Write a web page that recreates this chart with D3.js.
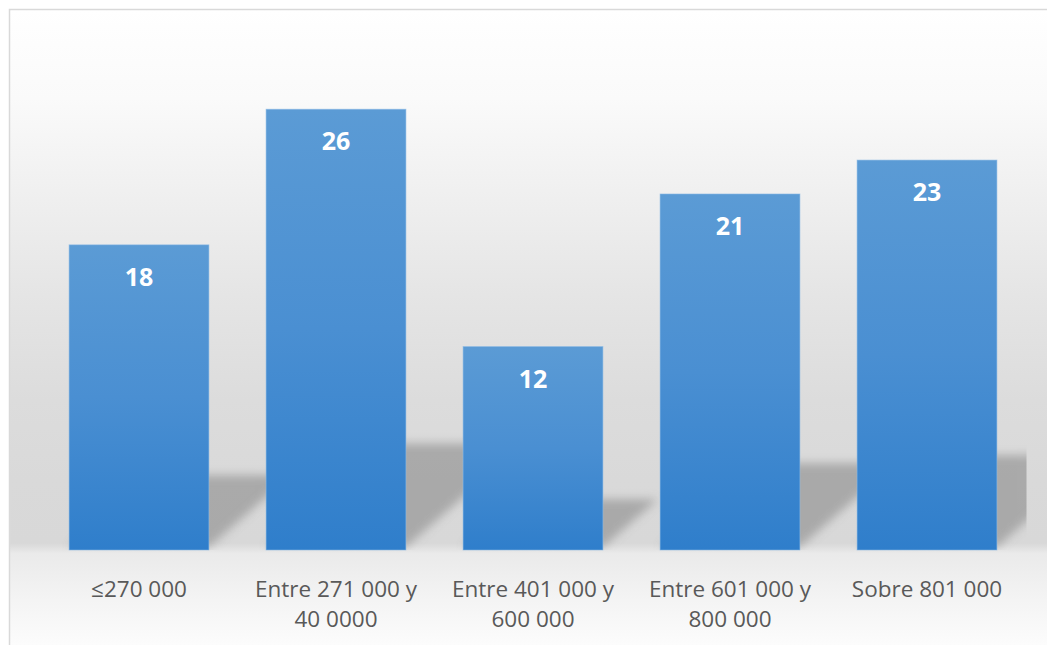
<!DOCTYPE html>
<html>
<head>
<meta charset="utf-8">
<script src="https://cdn.jsdelivr.net/npm/d3@7"></script>
<style>
  html, body { margin: 0; padding: 0; background: #ffffff; }
  svg { display: block; }
</style>
</head>
<body>
<svg id="chart" width="1047" height="645"></svg>
<script>
// ---- data ----
const categories = ["≤270 000", "Entre 271 000 y 40 0000", "Entre 401 000 y 600 000", "Entre 601 000 y 800 000", "Sobre 801 000"];
const categoryLines = [["≤270 000"], ["Entre 271 000 y", "40 0000"], ["Entre 401 000 y", "600 000"], ["Entre 601 000 y", "800 000"], ["Sobre 801 000"]];
const values = [18, 26, 12, 21, 23];
const yDomain = [0, 30];

// ---- layout ----
const W = 1047, H = 645;
const plot = { left: 40.5, right: 1025.5, top: 41.4, bottom: 550 };

const svg = d3.select("#chart");
const defs = svg.append("defs");

// background gradient
const bg = defs.append("linearGradient").attr("id", "bgGrad")
  .attr("gradientUnits", "userSpaceOnUse").attr("x1", 0).attr("y1", 9).attr("x2", 0).attr("y2", 645);
[[0, "#ffffff"], [0.14, "#fafafa"], [0.30, "#efefef"], [0.45, "#e5e5e5"], [0.615, "#dcdcdc"], [0.74, "#d9d9d9"], [0.84, "#d8d8d8"], [0.856, "#eaeaea"], [0.93, "#f4f4f4"], [1, "#fcfcfc"]]
  .forEach(([o, c]) => bg.append("stop").attr("offset", o).attr("stop-color", c));

// bar gradient
const bar = defs.append("linearGradient").attr("id", "barGrad")
  .attr("x1", 0).attr("y1", 0).attr("x2", 0).attr("y2", 1);
[[0, "#5b9bd5"], [0.5, "#4a8fd2"], [1, "#2f7ecb"]]
  .forEach(([o, c]) => bar.append("stop").attr("offset", o).attr("stop-color", c));

// shadow blur
defs.append("filter").attr("id", "blur").attr("x", "-20%").attr("y", "-20%").attr("width", "140%").attr("height", "140%")
  .append("feGaussianBlur").attr("stdDeviation", 5);

defs.append("clipPath").attr("id", "plotClip")
  .append("rect").attr("x", plot.left).attr("y", 0).attr("width", plot.right - plot.left + 1).attr("height", plot.bottom);

// chart area
svg.append("rect").attr("x", 9.5).attr("y", 9.5).attr("width", W + 10).attr("height", H + 10)
  .attr("fill", "url(#bgGrad)").attr("stroke", "#d9d9d9").attr("stroke-width", 1.5);

// scales
const x = d3.scaleBand().domain(categories).range([plot.left, plot.right])
  .paddingInner(0.29).paddingOuter(0.145);
const y = d3.scaleLinear().domain(yDomain).range([plot.bottom, plot.top]);

const data = categories.map((c, i) => ({ c, v: values[i], lines: categoryLines[i] }));

// perspective shadows
const shadowG = svg.append("g").attr("clip-path", "url(#plotClip)");
shadowG.selectAll("path").data(data).join("path")
  .attr("d", d => {
    const x0 = x(d.c), x1 = x(d.c) + x.bandwidth();
    const h = y(0) - y(d.v);
    const sh = h * 0.235, dx = sh * 1.15;
    const b = y(0) - 3;
    return `M${x0},${b}L${x1},${b}L${x1 + dx},${b - sh}L${x0 + dx},${b - sh}Z`;
  })
  .attr("fill", "#9a9a9a").attr("opacity", 0.75).attr("filter", "url(#blur)");

// bars
svg.append("g").selectAll("rect").data(data).join("rect")
  .attr("x", d => x(d.c)).attr("y", d => y(d.v))
  .attr("width", x.bandwidth()).attr("height", d => y(0) - y(d.v))
  .attr("fill", "url(#barGrad)").attr("stroke", "#8dbbe6").attr("stroke-width", 0.8).attr("stroke-opacity", 0.7);

// value labels
svg.append("g").selectAll("text").data(data).join("text")
  .attr("x", d => x(d.c) + x.bandwidth() / 2).attr("y", d => y(d.v) + 41)
  .attr("text-anchor", "middle")
  .attr("font-family", "'Open Sans', sans-serif").attr("font-weight", 700).attr("font-size", 25)
  .attr("fill", "#ffffff")
  .text(d => d.v);

// x axis (category labels, no line)
const xAxis = svg.append("g").attr("transform", `translate(0,${plot.bottom})`)
  .call(d3.axisBottom(x).tickSize(0).tickFormat(() => ""));
xAxis.select(".domain").remove();
xAxis.selectAll(".tick").each(function(c, i) {
  const t = d3.select(this).select("text").text(null)
    .attr("y", 0).attr("dy", null)
    .attr("font-family", "'Open Sans', sans-serif").attr("font-size", 22.5).attr("fill", "#595959");
  categoryLines[i].forEach((ln, k) => {
    t.append("tspan").attr("x", 0).attr("y", 47 + k * 30).text(ln);
  });
});
</script>
</body>
</html>
